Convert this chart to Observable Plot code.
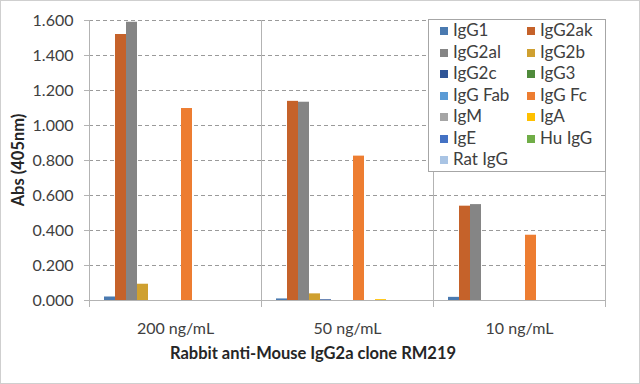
<!DOCTYPE html>
<html><head><meta charset="utf-8">
<script src="https://cdn.jsdelivr.net/npm/d3@7"></script>
<script src="https://cdn.jsdelivr.net/npm/@observablehq/plot@0.6"></script>
<style>
body{margin:0;background:#fff;}
#chart{position:relative;width:640px;height:384px;font-family:Lato,"Open Sans",sans-serif;color:#262626;}
#border{position:absolute;left:0;top:0;width:640px;height:384px;box-sizing:border-box;border:1px solid #cfcfcf;pointer-events:none;}
.ttl{position:absolute;font-weight:bold;font-size:16.5px;color:#262626;white-space:nowrap;}
#ytitle{left:18px;top:160px;transform:translate(-50%,-50%) rotate(-90deg);}
#xtitle{left:313px;top:353px;transform:translate(-50%,-50%);}
#legend{position:absolute;left:428px;top:19px;width:178px;height:153px;box-sizing:border-box;border:1px solid #a6a6a6;background:#fff;}
.item{position:absolute;font-size:17px;color:#404040;line-height:20px;white-space:nowrap;}
.sw{display:inline-block;width:8px;height:8px;margin-right:5px;vertical-align:1px;}
</style></head><body>
<div id="chart"></div>
<script>
const concentrations = ["200 ng/mL", "50 ng/mL", "10 ng/mL"];
const seriesNames = ["IgG1","IgG2ak","IgG2al","IgG2b","IgG2c","IgG3","IgG Fab","IgG Fc","IgM","IgA","IgE","Hu IgG","Rat IgG"];
const seriesColors = ["#4a7ab0","#c5622a","#858585","#cfa030","#2f5597","#4f8a3b","#5b9bd5","#ed7d31","#a5a5a5","#ffc000","#4472c4","#70ad47","#a9c4e4"];
const values200 = [0.020, 1.520, 1.590, 0.093, 0, 0, 0, 1.097, 0, 0, 0, 0, 0];
const values50  = [0.009, 1.138, 1.133, 0.038, 0.004, 0, 0, 0.825, 0, 0.005, 0, 0, 0];
const values10  = [0.018, 0.539, 0.548, 0, 0, 0, 0, 0.373, 0, 0, 0, 0, 0];
const yTicks = [0, 0.2, 0.4, 0.6, 0.8, 1.0, 1.2, 1.4, 1.6];
const xTitle = "Rabbit anti-Mouse  IgG2a clone RM219";
const yTitle = "Abs (405nm)";

const valueSets = [values200, values50, values10];
const data = [];
concentrations.forEach((c, gi) => seriesNames.forEach((s, si) => data.push({conc: c, series: s, value: valueSets[gi][si]})));

const gray = "#b3b3b3";
const plot = Plot.plot({
  width: 640, height: 384,
  marginLeft: 88, marginRight: 34, marginTop: 20, marginBottom: 84,
  style: {fontFamily: 'Lato, "Open Sans", sans-serif', fontSize: "16px", color: "#404040", background: "transparent"},
  fx: {domain: concentrations, padding: 0, label: null, axis: null},
  x: {domain: seriesNames, paddingInner: 0, paddingOuter: 0.7, axis: null},
  y: {domain: [0, 1.6], label: null},
  color: {domain: seriesNames, range: seriesColors},
  marks: [
    Plot.gridY(yTicks.slice(1), {stroke: "#9a9a9a", strokeOpacity: 1, strokeDasharray: "4,3"}),
    Plot.frame({anchor: "left", stroke: gray, strokeOpacity: 1, insetBottom: -6}),
    Plot.frame({anchor: "right", stroke: gray, strokeOpacity: 1, insetBottom: -6}),
    Plot.barY(data, {fx: "conc", x: "series", y: "value", fill: "series"}),
    Plot.ruleY([0], {stroke: gray}),
    Plot.axisY(yTicks, {tickFormat: d3.format(".3f"), tickSize: 5, tickPadding: 11, stroke: gray, label: null}),
    Plot.axisFx({anchor: "bottom", tickSize: 0, tickPadding: 22, label: null})
  ]
});
const chart = document.getElementById("chart");
chart.appendChild(plot);
plot.style.position = "absolute"; plot.style.left = "0"; plot.style.top = "0";

const yt = document.createElement("div"); yt.className = "ttl"; yt.id = "ytitle"; yt.textContent = yTitle; chart.appendChild(yt);
const xt = document.createElement("div"); xt.className = "ttl"; xt.id = "xtitle"; xt.textContent = xTitle; chart.appendChild(xt);

const lg = document.createElement("div"); lg.id = "legend"; chart.appendChild(lg);
seriesNames.forEach((s, i) => {
  const it = document.createElement("div"); it.className = "item";
  const col = i % 2, row = Math.floor(i / 2);
  it.style.left = (col === 0 ? 11 : 98) + "px";
  it.style.top = (0 + row * 21.5) + "px";
  const sw = document.createElement("span"); sw.className = "sw"; sw.style.background = seriesColors[i];
  it.appendChild(sw); it.appendChild(document.createTextNode(s));
  lg.appendChild(it);
});
const bd = document.createElement("div"); bd.id = "border"; chart.appendChild(bd);
</script>
</body></html>
